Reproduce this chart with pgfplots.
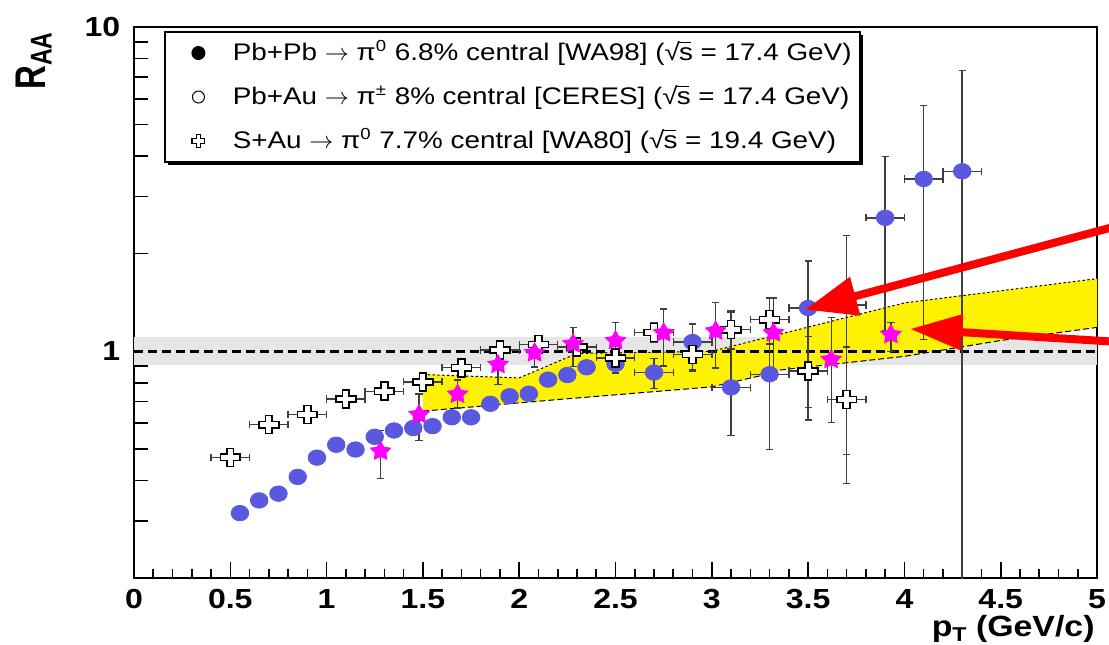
\documentclass[border=0pt]{standalone}
\usepackage{fontspec}
\setmainfont{Liberation Sans}[FakeStretch=1.16]
\newfontfamily\plainsans{Liberation Sans}
\usepackage{pgfplots}
\pgfplotsset{compat=1.18}
\usetikzlibrary{arrows.meta, shadows}

\definecolor{wablue}{RGB}{90,88,222}
\definecolor{ceres}{RGB}{255,0,255}
\definecolor{bandgray}{RGB}{230,230,230}

% open cross (ROOT marker 28)
\pgfdeclareplotmark{ocross}{%
  \pgfpathmoveto{\pgfpoint{-0.34\pgfplotmarksize}{\pgfplotmarksize}}%
  \pgfpathlineto{\pgfpoint{0.34\pgfplotmarksize}{\pgfplotmarksize}}%
  \pgfpathlineto{\pgfpoint{0.34\pgfplotmarksize}{0.34\pgfplotmarksize}}%
  \pgfpathlineto{\pgfpoint{\pgfplotmarksize}{0.34\pgfplotmarksize}}%
  \pgfpathlineto{\pgfpoint{\pgfplotmarksize}{-0.34\pgfplotmarksize}}%
  \pgfpathlineto{\pgfpoint{0.34\pgfplotmarksize}{-0.34\pgfplotmarksize}}%
  \pgfpathlineto{\pgfpoint{0.34\pgfplotmarksize}{-\pgfplotmarksize}}%
  \pgfpathlineto{\pgfpoint{-0.34\pgfplotmarksize}{-\pgfplotmarksize}}%
  \pgfpathlineto{\pgfpoint{-0.34\pgfplotmarksize}{-0.34\pgfplotmarksize}}%
  \pgfpathlineto{\pgfpoint{-\pgfplotmarksize}{-0.34\pgfplotmarksize}}%
  \pgfpathlineto{\pgfpoint{-\pgfplotmarksize}{0.34\pgfplotmarksize}}%
  \pgfpathlineto{\pgfpoint{-0.34\pgfplotmarksize}{0.34\pgfplotmarksize}}%
  \pgfpathclose\pgfusepathqfillstroke}

% filled five-point star
\pgfdeclareplotmark{fstar}{%
  \pgfpathmoveto{\pgfpointpolar{90}{\pgfplotmarksize}}%
  \pgfpathlineto{\pgfpointpolar{126}{0.52\pgfplotmarksize}}%
  \pgfpathlineto{\pgfpointpolar{162}{\pgfplotmarksize}}%
  \pgfpathlineto{\pgfpointpolar{198}{0.52\pgfplotmarksize}}%
  \pgfpathlineto{\pgfpointpolar{234}{\pgfplotmarksize}}%
  \pgfpathlineto{\pgfpointpolar{270}{0.52\pgfplotmarksize}}%
  \pgfpathlineto{\pgfpointpolar{306}{\pgfplotmarksize}}%
  \pgfpathlineto{\pgfpointpolar{342}{0.52\pgfplotmarksize}}%
  \pgfpathlineto{\pgfpointpolar{18}{\pgfplotmarksize}}%
  \pgfpathlineto{\pgfpointpolar{54}{0.52\pgfplotmarksize}}%
  \pgfpathclose\pgfusepathqfill}

\newcommand{\rts}{√\kern-0.04em\rlap{\rule[0.70em]{0.52em}{0.06em}}s}
\newcommand{\arr}{ $\rightarrow$ }

\pgfplotsset{
  errstyle/.style={
    /pgfplots/error bars/error bar style={black!75, line width=0.7pt},
    /pgfplots/error bars/error mark options={rotate=90, black!75, mark size=1.8pt, line width=0.7pt}},
}

\begin{document}
\begin{tikzpicture}[x=1pt,y=1pt]
\path[use as bounding box, clip] (0,0) rectangle (554.5,322);
\begin{axis}[
  at={(67pt,33pt)}, anchor=south west,
  scale only axis, width=481.5pt, height=275.5pt,
  xmin=0, xmax=5, ymin=0.2, ymax=10, ymode=log,
  axis line style={line width=1pt},
  tick style={black, line width=0.8pt},
  major tick length=8pt, minor tick length=4.4pt,
  tick pos=left, tick align=inside,
  xtick={0,0.5,1,1.5,2,2.5,3,3.5,4,4.5,5},
  xticklabels={0,0.5,1,1.5,2,2.5,3,3.5,4,4.5,5},
  minor x tick num=4,
  ytick={1,10}, yticklabels={1,10},
  minor y tick num=0,
  extra y ticks={0.2,0.3,0.4,0.5,0.6,0.7,0.8,0.9,2,3,4,5,6,7,8,9},
  extra y tick labels={},
  extra y tick style={major tick length=7pt},
  ticklabel style={font=\fontsize{13.8}{14}\selectfont\bfseries},
  xticklabel style={yshift=-2pt},
  yticklabel style={xshift=-3.4pt},
  legend style={at={(0.0312,0.9927)}, anchor=north west, draw=black,
    line width=1pt, fill=white, inner xsep=13.5pt, inner ysep=5pt,
    row sep=11pt, font=\fontsize{12}{13}\selectfont,
    nodes={inner sep=0pt, text height=9pt, text depth=2pt},
    drop shadow={shadow xshift=1.6pt, shadow yshift=-1.6pt, fill=black, opacity=1},
    /tikz/every odd column/.append style={column sep=14pt}},
  legend cell align=left,
]

% systematic band round unity
\addplot[fill=bandgray, draw=none, forget plot] coordinates {
  (0,0.905) (5,0.905) (5,1.105) (0,1.105)} -- cycle;

% yellow band
\addplot[fill=yellow, draw=none, forget plot] coordinates {
  (1.5,0.848) (2.0,0.828) (2.3,0.985) (3.0,1.0) (4.0,1.41) (5.0,1.675)
  (5.0,1.185) (4.5,1.08) (4.0,0.965) (3.35,0.875) (3.25,0.84) (3.0,0.777)
  (2.2,0.71) (1.5,0.654)} -- cycle;
\addplot[black, line width=0.5pt, dash pattern=on 1.2pt off 1.2pt, forget plot] coordinates {
  (1.5,0.848) (2.0,0.828) (2.3,0.985) (3.0,1.0) (4.0,1.41) (5.0,1.675)};
\addplot[black, line width=0.5pt, dash pattern=on 3pt off 1.5pt, forget plot] coordinates {
  (1.5,0.654) (2.2,0.71) (3.0,0.777) (3.25,0.84) (3.35,0.875) (4.0,0.965)
  (4.5,1.08) (5.0,1.185)};

% unity
\addplot[black, line width=1.5pt, dash pattern=on 4.5pt off 2.5pt, forget plot] coordinates {
  (0,1) (5,1)};

% WA98 Pb+Pb pi0
\addplot[only marks, mark=*, mark size=4.4pt, forget plot,
  mark options={yscale=0.88, draw=wablue, fill=wablue}] coordinates {
  (0.55,0.317) (0.65,0.347) (0.75,0.364) (0.85,0.410) (0.95,0.470)
  (1.05,0.515) (1.15,0.498) (1.25,0.545) (1.35,0.570) (1.45,0.580)
  (1.55,0.588) (1.65,0.626) (1.75,0.626) (1.85,0.689) (1.95,0.727)
  (2.05,0.740) (2.15,0.818) (2.25,0.845) (2.35,0.893) (2.50,0.915)};
\addplot[only marks, mark=*, mark size=4.4pt, forget plot,
  mark options={yscale=0.88, draw=wablue, fill=wablue}, errstyle,
  error bars/.cd, x dir=both, x explicit, y dir=both, y explicit]
  coordinates {
  (2.7,0.860) += (0.1,0.090) -= (0.1,0.093)
  (2.9,1.068) += (0.1,0.146) -= (0.1,0.200)
  (3.1,0.774) += (0.1,0.556) -= (0.1,0.224)
  (3.3,0.850) += (0.1,0.610) -= (0.1,0.351)
  (3.5,1.360) += (0.1,0.540) -= (0.1,0.746)
  (3.7,1.390) += (0.1,0.890) -= (0.1,0.999)
  (3.9,2.580) += (0.1,1.400) -= (0.1,1.420)
  (4.1,3.400) += (0.1,2.320) -= (0.1,2.314)
  (4.3,3.590) += (0.1,3.760) -= (0.1,3.490)};

% WA80 S+Au pi0
\addplot[only marks, mark=ocross, mark size=4.5pt, forget plot,
  mark options={xscale=1.1, draw=black, fill=white, line width=0.8pt}, errstyle,
  error bars/.cd, x dir=both, x explicit]
  coordinates {
  (0.5,0.471) +- (0.1,0) (0.7,0.594) +- (0.1,0) (0.9,0.638) +- (0.1,0)
  (1.1,0.713) +- (0.1,0) (1.3,0.753) +- (0.1,0) (1.5,0.805) +- (0.1,0)
  (1.7,0.890) +- (0.1,0) (1.9,1.010) +- (0.1,0) (2.1,1.050) +- (0.1,0)
  (2.3,1.030) +- (0.1,0) (2.5,0.955) +- (0.1,0)};
\addplot[only marks, mark=ocross, mark size=4.5pt, forget plot,
  mark options={xscale=1.1, draw=black, fill=white, line width=0.8pt}, errstyle,
  error bars/.cd, x dir=both, x explicit, y dir=both, y explicit]
  coordinates {
  (2.7,1.144) += (0.1,0.08) -= (0.1,0.08)
  (2.9,0.977) += (0.1,0.10) -= (0.1,0.10)
  (3.1,1.166) += (0.1,0.15) -= (0.1,0.15)
  (3.3,1.252) += (0.1,0.21) -= (0.1,0.20)
  (3.5,0.870) += (0.1,0.24) -= (0.1,0.20)
  (3.7,0.710) += (0.1,0.32) -= (0.1,0.23)};

% CERES Pb+Au pi+-
\addplot[only marks, mark=fstar, mark size=5.4pt, forget plot,
  mark options={xscale=1.08, fill=ceres, draw=ceres}, errstyle,
  error bars/.cd, y dir=both, y explicit]
  coordinates {
  (1.28,0.492) += (0,0.078) -= (0,0.087)
  (1.48,0.638) += (0,0.100) -= (0,0.107)
  (1.68,0.737) += (0,0.079) -= (0,0.069)
  (1.89,0.910) += (0,0.100) -= (0,0.120)
  (2.08,0.989) += (0,0.080) -= (0,0.094)
  (2.28,1.055) += (0,0.130) -= (0,0.156)
  (2.50,1.078) += (0,0.150) -= (0,0.220)
  (2.75,1.140) += (0,0.210) -= (0,0.240)
  (3.02,1.155) += (0,0.260) -= (0,0.266)
  (3.32,1.140) += (0,0.320) -= (0,0.320)
  (3.62,0.943) += (0,0.330) -= (0,0.340)
  (3.93,1.126) += (0,0.100) -= (0,0.126)};

\addlegendimage{only marks, mark=*, mark size=3pt, black}
\addlegendentry{Pb+Pb\arr π\textsuperscript{0} 6.8\% central [WA98] (\rts\ = 17.4 GeV)\hspace*{-9.5pt}}
\addlegendimage{only marks, mark=o, mark size=3pt, black, line width=0.5pt}
\addlegendentry{Pb+Au\arr π\textsuperscript{±} 8\% central [CERES] (\rts\ = 17.4 GeV)\hspace*{-9.5pt}}
\addlegendimage{only marks, mark=ocross, mark size=3.2pt, black, mark options={fill=white, line width=0.6pt}}
\addlegendentry{S+Au\arr π\textsuperscript{0} 7.7\% central [WA80] (\rts\ = 19.4 GeV)\hspace*{-9.5pt}}

\coordinate (t1) at (axis cs:3.484,1.344);
\coordinate (s1) at (axis cs:5.118,2.447);
\coordinate (t2) at (axis cs:4.029,1.172);
\coordinate (s2) at (axis cs:5.118,1.068);
\end{axis}

\draw[red, line width=4pt, -{Triangle[length=26pt, width=19pt]}] (s1) -- (t1);
\draw[red, line width=4pt, -{Triangle[length=26pt, width=17pt]}] (s2) -- (t2);

\node[anchor=base west, inner sep=0pt, xscale=1.3, rotate=90,
  font=\plainsans\bfseries\fontsize{16.5}{17}\selectfont] at (22.5,277) {R\textsubscript{AA}};
\node[anchor=base east, inner sep=0pt,
  font=\bfseries\fontsize{14.6}{15}\selectfont] at (547.5,4)
  {p\raisebox{-0.2em}{\fontsize{10}{11}\selectfont T} (GeV/c)};
\end{tikzpicture}
\end{document}
